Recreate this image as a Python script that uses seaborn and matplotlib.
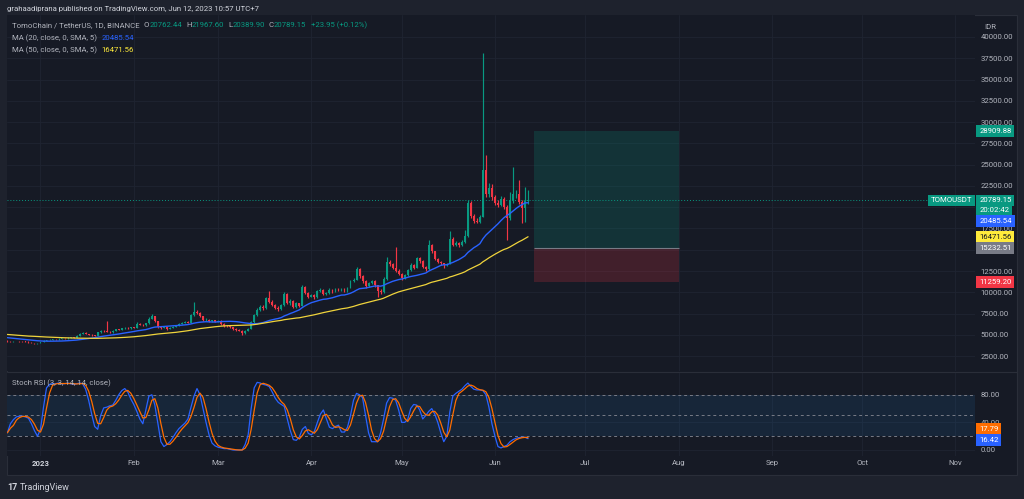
import numpy as np
import pandas as pd
import seaborn as sns
import matplotlib.pyplot as plt
from matplotlib.patches import Rectangle
from matplotlib.lines import Line2D
from matplotlib.transforms import blended_transform_factory

# closes before the visible window (Nov 1 - Dec 20 2022), only feed the MAs
pre_close = [5600, 5650, 5500, 5700, 5800, 5750, 5600, 5100, 4700, 4900,
             5100, 5200, 5150, 5300, 5250, 5200, 5300, 5350, 5250, 5150,
             5200, 5250, 5300, 5400, 5350, 5300, 5250, 5200, 5300, 5250,
             5150, 5050, 5000, 4950, 4900, 4850, 4950, 4900, 4800, 4750,
             4700, 4650, 4600, 4550, 4500, 4450, 4400, 4450, 4380, 4300]

# daily candles Dec 21 2022 .. Jun 12 2023 (open = previous close)
close = [4250, 4230, 4280, 4260, 4240, 4220, 4200, 4100, 4050, 4000, 4020,
         4150, 4300, 4380, 4420, 4500, 4480, 4550, 4600, 4580, 4680, 4720, 4650, 4900, 5150, 5250, 5100, 5000,
         4950, 4900, 5300, 5450, 5400, 5350, 5300, 5500, 5650, 5600, 5750, 5800, 5750, 5900,
         5850, 6300, 6200, 6100, 6350, 6900, 7200, 6600, 5900, 5800, 5900, 5700, 5800, 5950, 6100, 6300, 6400, 6500, 6450,
         7300, 7700, 7600, 7200, 6750, 6800, 6600, 6700, 6550, 6650, 6300, 6050, 6000, 5900, 5700, 5600, 5500, 5200, 5500, 5700,
         6500, 7300, 7900, 8300, 8100, 9300, 8900, 8500, 8200, 8000, 8500, 9800, 8700, 9000, 8300, 8700, 8400, 10600, 9900, 9500,
         9700, 9400, 10100, 10300, 9800, 9900, 10300, 10100, 10400, 10200, 10350, 10100, 10500, 11300, 11500, 12700, 11900, 11300, 10700, 11100,
         11300, 10800, 10200, 10000, 11600, 13600, 13300, 12900, 12500, 12200, 11700, 12000, 12600, 13200, 12900, 14000, 13700, 13000, 12700, 15600,
         14800, 13900, 13600, 13400, 13200, 13350, 16300, 15600, 15800, 15500, 15900, 16600, 20500, 19000, 18400, 18300, 18900, 24400, 21500, 22300,
         21200, 20500, 20300, 21000, 20000, 18700, 20800, 21500, 21600, 20600, 19900, 20762.44, 20789.15]

high = [4350, 4300, 4320, 4330, 4300, 4280, 4260, 4240, 4150, 4090, 4080,
        4200, 4350, 4450, 4480, 4560, 4560, 4620, 4680, 4650, 4760, 4800, 4780, 4980, 5250, 5350, 5300, 5150,
        5050, 5000, 5380, 5550, 5520, 6650, 5450, 5580, 5730, 5720, 5830, 5900, 5880, 5980,
        5960, 6550, 6380, 6260, 6450, 7050, 7400, 7250, 6650, 5980, 6000, 5950, 5880, 6050, 6200, 6400, 6500, 6600, 6580,
        7400, 8850, 7900, 7700, 7250, 6950, 6880, 6800, 6750, 6750, 6700, 6350, 6150, 6080, 5950, 5780, 5680, 5550, 5580, 5800,
        6600, 7450, 8100, 8500, 8450, 9500, 10200, 9050, 8650, 8350, 8650, 10000, 9900, 9200, 9100, 8850, 8800, 10900, 10700, 10000,
        9850, 9800, 10250, 10500, 10400, 10050, 10450, 10400, 10550, 10500, 10480, 10450, 10650, 11500, 11700, 13000, 12800, 12000, 11400, 11250,
        11450, 11400, 10900, 10350, 11800, 14200, 13800, 13450, 15360, 12700, 12300, 12150, 12750, 13400, 13300, 14200, 14150, 13800, 13100, 16200,
        15700, 14900, 14050, 13700, 13500, 13500, 17200, 16500, 16000, 15950, 16100, 17300, 20850, 20700, 19200, 18700, 19100, 38100, 26100, 22800,
        22700, 21400, 20900, 21300, 21200, 20300, 21800, 24700, 22000, 23200, 20900, 22400, 21967.60]

low = [4200, 4180, 4190, 4220, 4200, 4170, 4150, 4060, 4000, 3950, 3960,
       3990, 4120, 4260, 4340, 4380, 4430, 4450, 4520, 4530, 4550, 4640, 4600, 4620, 4870, 5100, 5050, 4950,
       4880, 4820, 4880, 5250, 5350, 5300, 5200, 5270, 5460, 5540, 5570, 5700, 5690, 5720,
       5780, 5820, 6120, 6020, 6060, 6300, 6850, 6500, 5800, 5700, 5750, 5620, 5650, 5760, 5900, 6050, 6250, 6350, 6380,
       6420, 7250, 7450, 7100, 6650, 6650, 6520, 6550, 6480, 6500, 6200, 5950, 5900, 5800, 5600, 5500, 5400, 4950, 5150, 5450,
       5650, 6400, 7200, 7800, 7900, 8000, 8800, 8350, 8050, 7850, 7950, 8400, 8600, 8550, 8200, 8200, 8300, 8350, 9750, 9350,
       9400, 9250, 9350, 10000, 9700, 9650, 9850, 9950, 10000, 10100, 10100, 10000, 10050, 10450, 11200, 11400, 11700, 11150, 10550, 10600,
       11000, 10650, 9500, 9800, 9950, 11500, 13100, 12700, 12400, 12050, 11500, 11600, 11900, 12500, 12750, 12850, 13500, 12850, 12550, 12650,
       14600, 13750, 13450, 13250, 12850, 13100, 13300, 15400, 15450, 15350, 15400, 15800, 16500, 18700, 18200, 18100, 18100, 18800, 21200, 21200,
       20900, 20200, 20000, 20100, 19800, 16150, 18500, 20500, 21100, 20400, 18100, 18300, 20389.90]

# Stoch RSI %K, same days
stoch_k = [25, 38, 44, 48, 49, 49, 48, 46, 38, 28, 20,
           30, 62, 90, 95, 96, 96, 97, 96, 96, 97, 96, 95, 96, 97, 96, 88, 72,
           52, 34, 30, 50, 61, 62, 64, 65, 72, 80, 86, 89, 84, 74,
           66, 56, 45, 38, 58, 78, 80, 65, 38, 12, 5, 8, 12, 18, 25, 31, 35, 39, 45,
           62, 78, 89, 80, 60, 40, 22, 10, 6, 4, 3, 2, 2, 1, 0, 0, 0, 0, 8, 22,
           60, 90, 98, 97, 95, 94, 92, 84, 75, 69, 66, 63, 45, 28, 15, 14, 19, 30, 34, 24,
           22, 27, 40, 52, 58, 45, 33, 31, 34, 36, 26, 26, 33, 50, 72, 82, 80, 76, 50, 25,
           12, 12, 12, 25, 45, 68, 76, 75, 72, 58, 40, 40, 44, 60, 66, 65, 58, 45, 50, 56,
           60, 52, 40, 25, 12, 20, 55, 78, 82, 85, 88, 93, 97, 92, 88, 87, 87, 86, 80, 62,
           38, 20, 5, 3, 5, 7, 12, 15, 17, 18, 18.5, 18.45, 16.42]

# long position tool
pos_start, pos_end = '2023-06-14', '2023-08-01'
pos_target, pos_entry, pos_stop = 28909.88, 15232.51, 11259.20

W, H = 1024, 499
BG_OUT, BG_IN = '#1e222d', '#161a25'
GREEN, RED, BLUE, YELLOW, ORANGE, GRAY = '#089981', '#f23645', '#2962ff', '#f0d43c', '#ff6d00', '#787b86'
TXT = '#b2b5be'
FS = 5.6

sns.set_theme(style='dark', rc={'axes.facecolor': BG_IN, 'figure.facecolor': BG_OUT})
plt.rcParams['font.family'] = ['Roboto', 'DejaVu Sans']

jan1 = pd.Timestamp('2023-01-01')
dates = pd.date_range('2022-12-21', periods=len(close), freq='D')
days = np.array((dates - jan1).days)
all_days = np.concatenate([np.arange(days[0] - len(pre_close), days[0]), days])
all_close = pd.Series(pre_close + close)
ma20 = all_close.rolling(20).mean()
ma50 = all_close.rolling(50).mean()
opens = np.array([pre_close[-1]] + close[:-1])
close_a = np.array(close)
up = close_a >= opens
stoch_d = pd.Series(stoch_k).rolling(3, min_periods=1).mean()

fig = plt.figure(figsize=(W / 100, H / 100), dpi=100)
fig.patches.append(Rectangle((7 / W, 1 - 475 / H), 1010 / W, 460 / H, transform=fig.transFigure,
                             facecolor=BG_IN, edgecolor='#2a2e39', lw=0.8, zorder=-5))
ax = fig.add_axes([7 / W, 1 - 371 / H, 968 / W, 356 / H])
rx = fig.add_axes([7 / W, 1 - 456 / H, 968 / W, 84 / H], sharex=ax)
fig.add_artist(Line2D([7 / W, 1017 / W], [1 - 371.5 / H] * 2, color='#2a2e39', lw=0.8))

month_starts = pd.date_range('2023-01-01', '2023-11-01', freq='MS')
month_days = (month_starts - jan1).days
month_labels = ['2023'] + [m.strftime('%b') for m in month_starts[1:]]

for a in (ax, rx):
    for s in a.spines.values():
        s.set_visible(False)
    a.grid(True, color='#1f2431', lw=0.6)
    a.yaxis.tick_right()
    a.tick_params(length=0, labelsize=FS, labelcolor=TXT, pad=4)
ax.set_xlim(-11.13, 310.5)
ax.set_xticks(month_days)
rx.set_xticklabels(month_labels)
ax.tick_params(labelbottom=False)
rx.tick_params(axis='x', pad=3)
rx.get_xticklabels()[0].set_color('#d1d4dc')
rx.get_xticklabels()[0].set_fontweight('bold')

# ---- price pane ----
price_ticks = np.arange(2500, 40001, 2500)
ax.set_ylim(752, 42585)
ax.set_yticks(price_ticks)
# 20000 and 15000 sit under the price badges, as on the reference
ax.set_yticklabels(['' if v in (15000, 20000) else f'{v:.2f}' for v in price_ticks])

body_lo = np.minimum(opens, close_a)
body_h = np.maximum(np.abs(close_a - opens), 40)
cols = np.where(up, GREEN, RED)
ax.vlines(days, low, high, colors=cols, lw=0.85, zorder=3)
ax.bar(days, body_h, bottom=body_lo, width=0.62, color=cols, lw=0, zorder=3)

vis = all_days >= days[0]
sns.lineplot(x=all_days[vis], y=ma20[vis].values, ax=ax, color=BLUE, lw=1.0, zorder=4)
sns.lineplot(x=all_days[vis], y=ma50[vis].values, ax=ax, color=YELLOW, lw=0.9, zorder=4)

p0 = (pd.Timestamp(pos_start) - jan1).days
p1 = (pd.Timestamp(pos_end) - jan1).days
ax.add_patch(Rectangle((p0, pos_entry), p1 - p0, pos_target - pos_entry, facecolor=GREEN, alpha=0.2, lw=0, zorder=2))
ax.add_patch(Rectangle((p0, pos_stop), p1 - p0, pos_entry - pos_stop, facecolor=RED, alpha=0.2, lw=0, zorder=2))
ax.hlines(pos_entry, p0, p1, color=GRAY, lw=0.8, zorder=2)

last = close[-1]
ax.axhline(last, color=GREEN, ls=(0, (1, 2)), lw=0.7, zorder=2)
ax.set_xlabel('')
ax.set_ylabel('')


def badge(a, value, text, bg, fg='white', dy=0, ha='left', x=1.0, dx=3):
    a.annotate(text, xy=(x, value), xycoords=blended_transform_factory(a.transAxes, a.transData),
               xytext=(dx, dy), textcoords='offset points', ha=ha, va='center', fontsize=FS,
               color=fg, annotation_clip=False, zorder=10,
               bbox=dict(boxstyle='square,pad=0.38', fc=bg, ec='none'))


badge(ax, pos_target, '28909.88', GREEN)
badge(ax, last, f'{last:.2f}', GREEN)
badge(ax, last, '20:02:42', GREEN, dy=-7.2)
badge(ax, last, 'TOMOUSDT', GREEN, ha='right', dx=-2)
badge(ax, 20485.54, '20485.54', BLUE, dy=-12.6)
badge(ax, 16471.56, '16471.56', '#ffeb3b', fg='#131722')
badge(ax, pos_entry, '15232.51', GRAY)
badge(ax, pos_stop, '11259.20', RED)

# ---- stoch RSI pane ----
rx.set_ylim(-8.7, 113)
rx.set_yticks([0, 40, 80])
rx.set_yticklabels(['0.00', '40.00', '80.00'])
rx.axhspan(20, 80, color='#2196f3', alpha=0.1, lw=0, zorder=1)
for lvl in (80, 50, 20):
    rx.axhline(lvl, color=GRAY, ls=(0, (3, 3)), lw=0.7, zorder=2)
sns.lineplot(x=days, y=stoch_k, ax=rx, color=BLUE, lw=0.9, zorder=4)
sns.lineplot(x=days, y=stoch_d.values, ax=rx, color=ORANGE, lw=0.9, zorder=4)
rx.set_xlabel('')
rx.set_ylabel('')
badge(rx, stoch_d.iloc[-1], f'{stoch_d.iloc[-1]:.2f}', ORANGE, dy=6.2)
badge(rx, stoch_k[-1], f'{stoch_k[-1]:.2f}', BLUE, dy=-1)


# ---- texts ----
def chain(x_px, y_px, parts, size=FS, weight='normal'):
    t = fig.text(x_px / W, 1 - y_px / H, parts[0][0], color=parts[0][1], fontsize=size, va='center',
                 fontweight=weight)
    for s, c, gap in parts[1:]:
        t = ax.annotate(s, xy=(1, 0.5), xycoords=t, xytext=(gap, 0), textcoords='offset points',
                        va='center', ha='left', color=c, fontsize=size, annotation_clip=False)


fig.text(7 / W, 1 - 9 / H, 'grahaadiprana published on TradingView.com, Jun 12, 2023 10:57 UTC+7',
         color='#d1d4dc', fontsize=FS, va='center')
chain(12, 25, [('TomoChain / TetherUS, 1D, BINANCE', TXT), ('O', TXT, 3), ('20762.44', GREEN, 0),
               ('H', TXT, 3), ('21967.60', GREEN, 0), ('L', TXT, 3), ('20389.90', GREEN, 0),
               ('C', TXT, 3), ('20789.15', GREEN, 0), ('+23.95 (+0.12%)', GREEN, 3)])
chain(12, 38, [('MA (20, close, 0, SMA, 5)', TXT), ('20485.54', BLUE, 3)])
chain(12, 50, [('MA (50, close, 0, SMA, 5)', TXT), ('16471.56', '#ffeb3b', 3)])
chain(12, 383, [('Stoch RSI (3, 3, 14, 14, close)', TXT), (f'{stoch_k[-1]:.2f}', BLUE, 3),
                (f'{stoch_d.iloc[-1]:.2f}', ORANGE, 3)])
fig.text(984 / W, 1 - 27 / H, 'IDR', color=TXT, fontsize=FS, va='center')
chain(7, 487, [('17', '#d1d4dc'), ('TradingView', '#d1d4dc', 2)], size=6.5, weight='bold')

fig.savefig('out.png', dpi=100, facecolor=BG_OUT)
